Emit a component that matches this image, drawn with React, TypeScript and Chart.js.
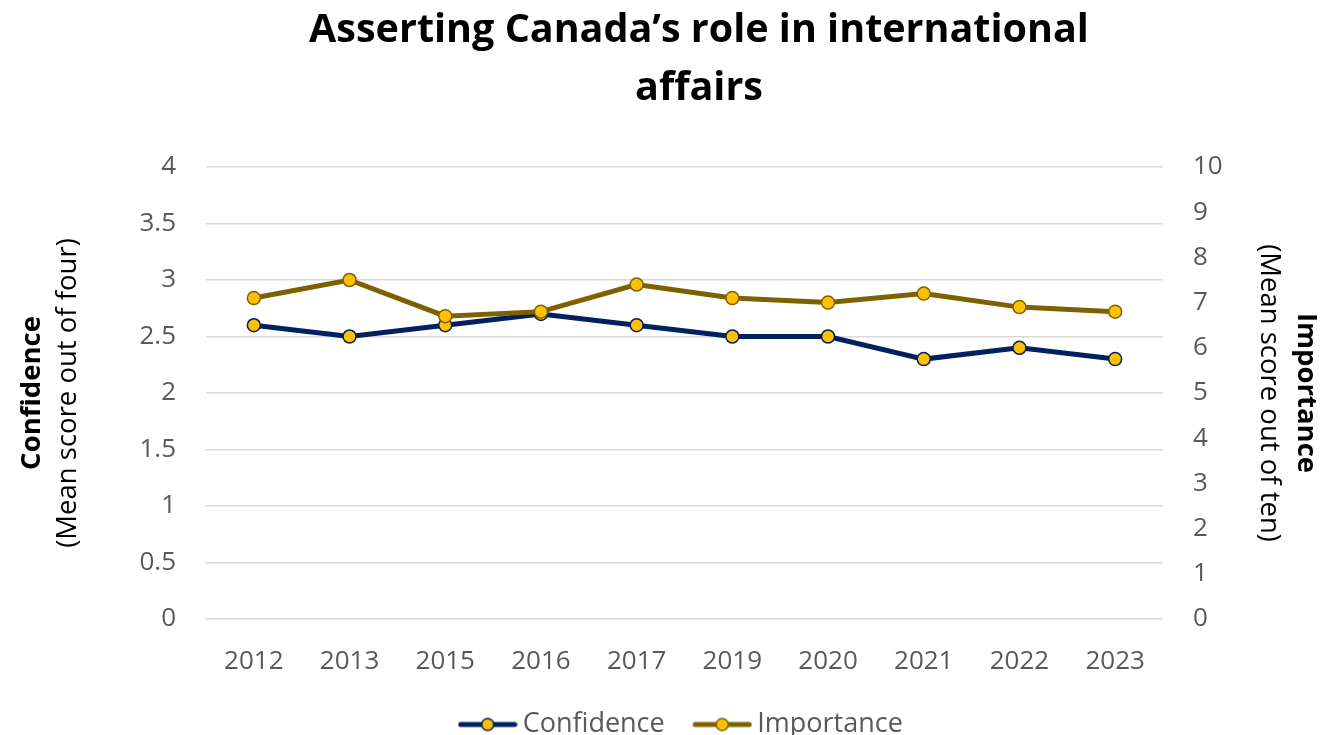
import React, { useEffect, useRef } from "react";
import { Chart, registerables } from "chart.js";

Chart.register(...registerables);

const years = ["2012", "2013", "2015", "2016", "2017", "2019", "2020", "2021", "2022", "2023"];
const confidence = [2.6, 2.5, 2.6, 2.7, 2.6, 2.5, 2.5, 2.3, 2.4, 2.3];
const importance = [7.1, 7.5, 6.7, 6.8, 7.4, 7.1, 7.0, 7.2, 6.9, 6.8];
const titleLines = ["Asserting Canada\u2019s role in international", "affairs"];
const leftTitle = ["Confidence", "(Mean score out of four)"];
const rightTitle = ["Importance", "(Mean score out of ten)"];
const seriesNames = ["Confidence", "Importance"];

const FONT = "'Open Sans', sans-serif";
const NAVY = "#002060";
const OLIVE = "#7F6000";
const GOLD = "#FFC000";
const GREY = "#595959";

function legendImage(lineColor: string) {
  const c = document.createElement("canvas");
  c.width = 60;
  c.height = 16;
  const x = c.getContext("2d")!;
  x.strokeStyle = lineColor;
  x.lineWidth = 5;
  x.lineCap = "round";
  x.beginPath();
  x.moveTo(3, 8);
  x.lineTo(57, 8);
  x.stroke();
  x.beginPath();
  x.arc(30, 8, 6, 0, Math.PI * 2);
  x.fillStyle = GOLD;
  x.fill();
  x.lineWidth = 1.5;
  x.stroke();
  return c;
}

const titlesPlugin = {
  id: "titles",
  afterDraw(chart: any) {
    const { ctx, chartArea } = chart;
    const cy = (chartArea.top + chartArea.bottom) / 2;
    ctx.save();
    ctx.fillStyle = "#000";
    ctx.textAlign = "center";
    ctx.textBaseline = "middle";
    // chart title
    ctx.font = `bold 39.5px ${FONT}`;
    ctx.fillText(titleLines[0], 699, 31);
    ctx.fillText(titleLines[1], 699, 89);
    // left axis title
    ctx.save();
    ctx.translate(32, cy);
    ctx.rotate(-Math.PI / 2);
    ctx.font = `bold 27.5px ${FONT}`;
    ctx.fillText(leftTitle[0], 0, 0);
    ctx.font = `27.5px ${FONT}`;
    ctx.fillText(leftTitle[1], 0, 36);
    ctx.restore();
    // right axis title
    ctx.save();
    ctx.translate(1306, cy);
    ctx.rotate(Math.PI / 2);
    ctx.font = `bold 27.5px ${FONT}`;
    ctx.fillText(rightTitle[0], 0, 0);
    ctx.font = `27.5px ${FONT}`;
    ctx.fillText(rightTitle[1], 0, 37);
    ctx.restore();
    ctx.restore();
  },
};

export default function App() {
  const ref = useRef<HTMLCanvasElement>(null);
  useEffect(() => {
    document.body.style.margin = "0";
    const imgs = [legendImage(NAVY), legendImage(OLIVE)];
    const chart = new Chart(ref.current!, {
      type: "line",
      data: {
        labels: years,
        datasets: [
          {
            label: seriesNames[0],
            data: confidence,
            yAxisID: "y",
            borderColor: NAVY,
            borderWidth: 5,
            pointRadius: 6.5,
            pointBorderWidth: 1.5,
            pointBackgroundColor: GOLD,
            pointBorderColor: NAVY,
            order: 1,
          },
          {
            label: seriesNames[1],
            data: importance,
            yAxisID: "y1",
            borderColor: OLIVE,
            borderWidth: 5,
            pointRadius: 6.5,
            pointBorderWidth: 1.5,
            pointBackgroundColor: GOLD,
            pointBorderColor: OLIVE,
            order: 0,
          },
        ],
      },
      options: {
        animation: false,
        responsive: false,
        maintainAspectRatio: false,
        layout: { padding: { top: 167, left: 0, right: 0, bottom: -13 } },
        plugins: {
          title: { display: false },
          legend: {
            position: "bottom",
            fullSize: false,
            labels: {
              usePointStyle: true,
              pointStyleWidth: 43,
              padding: 36,
              color: GREY,
              font: { family: FONT, size: 27 },
              sort: (a: any, b: any) => a.datasetIndex - b.datasetIndex,
              generateLabels: (c: any) => {
                const base = (Chart as any).defaults.plugins.legend.labels.generateLabels(c);
                return base.map((l: any) => ({ ...l, pointStyle: imgs[l.datasetIndex] }));
              },
            },
          },
          tooltip: { enabled: false },
        },
        scales: {
          x: {
            offset: true,
            grid: { display: false, drawTicks: false },
            border: { display: false },
            ticks: { color: GREY, font: { family: FONT, size: 26 }, padding: 27 },
            afterFit: (s: any) => {
              s.height = 56;
            },
          },
          y: {
            position: "left",
            min: 0,
            max: 4,
            ticks: {
              stepSize: 0.5,
              color: GREY,
              font: { family: FONT, size: 26 },
              padding: 30,
              callback: (v: any) => String(v),
            },
            grid: { color: "#D9D9D9", lineWidth: 1.5, drawTicks: false },
            border: { display: false },
            afterFit: (s: any) => {
              s.width = 206;
            },
          },
          y1: {
            position: "right",
            min: 0,
            max: 10,
            ticks: {
              stepSize: 1,
              color: GREY,
              font: { family: FONT, size: 26 },
              padding: 30,
              callback: (v: any) => String(v),
            },
            grid: { display: false, drawTicks: false },
            border: { display: false },
            afterFit: (s: any) => {
              s.width = 159;
            },
          },
        },
      },
      plugins: [titlesPlugin],
    });
    return () => chart.destroy();
  }, []);
  return (
    <div style={{ width: 1322, height: 735 }}>
      <canvas ref={ref} width={1322} height={735} style={{ display: "block" }} />
    </div>
  );
}
